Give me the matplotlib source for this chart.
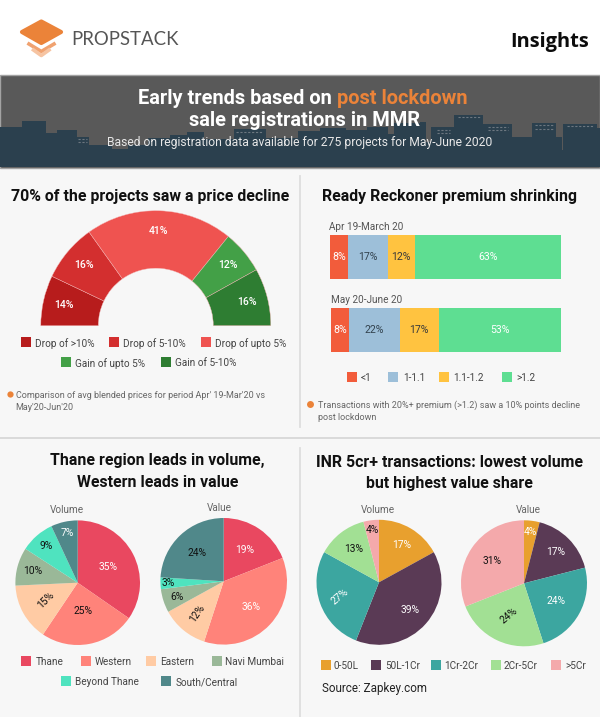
import numpy as np
import matplotlib
matplotlib.use("Agg")
import matplotlib.pyplot as plt
from matplotlib.patches import Polygon, Rectangle

plt.rcParams['font.family'] = ['Roboto', 'DejaVu Sans']

# gauge
gauge_labels = ['Drop of >10%', 'Drop of 5-10%', 'Drop of upto 5%', 'Gain of upto 5%', 'Gain of 5-10%']
gauge_values = [14, 16, 41, 12, 16]
gauge_colors = ['#b71c1c', '#d32f2f', '#ef5350', '#43a047', '#2e7d32']

# stacked bars
bar_periods = ['Apr 19-March 20', 'May 20-June 20']
bar_labels = ['<1', '1-1.1', '1.1-1.2', '>1.2']
bar_apr = [8, 17, 12, 63]
bar_may = [8, 22, 17, 53]
bar_colors = ['#f25c3b', '#9dbfd9', '#ffc340', '#5ede92']
bar_text = ['white', '#33434f', '#3a3a3a', 'white']

# regions
region_labels = ['Thane', 'Western', 'Eastern', 'Navi Mumbai', 'Beyond Thane', 'South/Central']
region_volume = [35, 25, 15, 10, 9, 7]
region_value = [19, 36, 12, 6, 3, 24]
region_colors = ['#e94860', '#ff837a', '#ffcba4', '#9ab898', '#4fe3bf', '#50888a']

# ticket size
size_labels = ['0-50L', '50L-1Cr', '1Cr-2Cr', '2Cr-5Cr', '>5Cr']
size_volume = [17, 39, 27, 13, 4]
size_value = [4, 17, 24, 24, 31]
size_colors = ['#e8a02e', '#5a3a55', '#3ca6a0', '#a2e094', '#f4a9ab']

W, H = 600, 717
BG = '#f7f7f7'
ORANGE = '#eb8339'
HEAD = 11.45
NOTE = 6.5

fig = plt.figure(figsize=(W / 100, H / 100), dpi=100, facecolor='white')

# full size axes in pixel coordinates for text and decoration
bg = fig.add_axes([0, 0, 1, 1])
bg.set_xlim(0, W)
bg.set_ylim(H, 0)
bg.axis('off')


def px_axes(x, y, w, h):
    ax = fig.add_axes([x / W, 1 - (y + h) / H, w / W, h / H])
    ax.patch.set_alpha(0)
    return ax


def label(x, y, s, size=7.2, color='#444444', ha='left', weight='normal', **kw):
    # centre of the box sits a bit above the ink, so nudge down
    bg.text(x, y + 1, s, fontsize=size, color=color, ha=ha, va='center', fontweight=weight, **kw)


def legend(items, colors, swatch_x, text_x, y):
    for s, c, sx, tx in zip(items, colors, swatch_x, text_x):
        bg.add_patch(Rectangle((sx, y - 5), 10, 10, fc=c, ec='none'))
        label(tx, y, s)


def draw_pie(cx, cy, r, values, colors, dist, text_colors, rotations):
    ax = px_axes(cx - r, cy - r, 2 * r, 2 * r)
    wedges, _ = ax.pie(values, colors=colors, startangle=90, counterclock=False, radius=1)
    ax.set_xlim(-1, 1)
    ax.set_ylim(-1, 1)
    for w, v, d, tc, rot in zip(wedges, values, dist, text_colors, rotations):
        a = np.radians((w.theta1 + w.theta2) / 2)
        ax.text(d * np.cos(a), d * np.sin(a), f'{v}%', color=tc, fontsize=7.4,
                ha='center', va='center', rotation=rot)


# page background and dividers
bg.add_patch(Rectangle((0, 168), W, H - 168, fc=BG, ec='none'))
bg.plot([300, 300], [176, 427], color='#dedede', lw=1.3)
bg.plot([300, 300], [448, 717], color='#dedede', lw=1.3)
bg.plot([0, 600], [438, 438], color='#d2d2d2', lw=1.1)

# logo
bg.plot([29, 41.3, 54], [44, 51.5, 44], color='#f0a270', lw=2.6, solid_joinstyle='round')
bg.plot([33.5, 41.3, 49], [50, 55.5, 50], color='#f6c4a2', lw=2.6, solid_joinstyle='round')
bg.add_patch(Polygon([(22, 32), (41.3, 21.5), (61, 32), (41.3, 43)], closed=True, fc=ORANGE,
                     ec=ORANGE, lw=3, joinstyle='round'))
label(71, 38.5, 'PROPSTACK', size=13.4, color='#555555', family=['Lato', 'DejaVu Sans'])
label(588.5, 41, 'Insights', size=14.4, color='#0c0c0c', ha='right', weight='bold',
      family=['Open Sans', 'DejaVu Sans'])

# header band with skyline
bg.add_patch(Rectangle((0, 75), W, 92.7, fc='#595959', ec='#a3a3a3', lw=1))
skyline = [(0, 127), (22, 127), (22, 121), (46, 121), (46, 133), (57, 133), (57, 130), (77, 130),
           (77, 137), (89, 137), (89, 145), (112, 145), (112, 149), (128, 149), (128, 145),
           (148, 145), (148, 138), (170, 138), (170, 135), (187, 135), (187, 132), (204, 132),
           (204, 139), (234, 139), (234, 129), (266, 129), (266, 138), (298, 138), (298, 131), (320, 131),
           (320, 128), (346, 128), (346, 130), (367, 130), (367, 127), (388, 127), (388, 134),
           (394, 134), (394, 123), (420, 123), (420, 122), (426, 122), (426, 142), (431, 142),
           (431, 127), (454, 127), (454, 115), (483, 115), (483, 124), (512, 124), (512, 137),
           (532, 137), (532, 123), (556, 123), (556, 137), (562, 137), (562, 150), (563, 150),
           (563, 124), (597, 124), (597, 128), (600, 128), (600, 167), (0, 167)]
bg.add_patch(Polygon(skyline, closed=True, fc='#2b404e', ec='none'))
for x0, x1, y in [(78, 87, 139), (78, 87, 142), (236, 262, 132), (437, 450, 130), (437, 450, 133),
                  (458, 480, 117), (488, 508, 127), (488, 508, 130), (535, 553, 125),
                  (535, 553, 129), (567, 593, 126)]:
    bg.plot([x0, x1], [y, y], color='#6d7780', lw=0.8, ls=(0, (2, 1.5)))

label(138, 97, 'Early trends based on', size=14.4, color='white', weight='bold')
label(337, 97, 'post lockdown', size=14.4, color=ORANGE, weight='bold')
label(305, 119, 'sale registrations in MMR', size=14.4, color='white', ha='center', weight='bold')
label(300, 141.7, 'Based on registration data available for 275 projects for May-June 2020',
      size=8.7, color='#e8e8e8', ha='center')

# gauge panel, hidden second half of the pie keeps the arc on top
label(150, 196, '70% of the projects saw a price decline', size=HEAD, color='#111111', ha='center', weight='bold')
gx, gy, gr = 155.8, 325.7, 115
gauge_ax = px_axes(gx - gr, gy - gr, 2 * gr, 2 * gr)
g_wedges, _ = gauge_ax.pie(gauge_values + [sum(gauge_values)], colors=gauge_colors + ['none'],
                           startangle=180, counterclock=False, radius=1,
                           wedgeprops=dict(width=0.5, edgecolor='#f3b5b5', linewidth=0.3))
g_wedges[-1].set_visible(False)
gauge_ax.set_xlim(-1, 1)
gauge_ax.set_ylim(-1, 1)
for w, v in zip(g_wedges, gauge_values):
    a = np.radians((w.theta1 + w.theta2) / 2)
    gauge_ax.text(0.82 * np.cos(a), 0.82 * np.sin(a), f'{v}%', color='white', fontsize=7.6,
                  fontweight='medium', ha='center', va='center')
legend(gauge_labels[:3], gauge_colors[:3], [21, 109, 201], [35.3, 123.3, 215.3], 342.3)
legend(gauge_labels[3:], gauge_colors[3:], [61, 161], [75, 175], 362.3)
bg.plot([10], [394], 'o', color=ORANGE, ms=4.5, mec='none')
label(15.7, 394, "Comparison of avg blended prices for period Apr' 19-Mar'20 vs", size=NOTE, color='#666666')
label(15.7, 406.7, "May'20-Jun'20", size=NOTE, color='#666666')

# stacked bars panel
label(450, 196, 'Ready Reckoner premium shrinking', size=HEAD, color='#111111', ha='center', weight='bold')
label(329.3, 226, bar_periods[0], color='#555555')
label(330.7, 299.3, bar_periods[1], color='#555555')
for vals, x0, y0, h in [(bar_apr, 329.7, 235, 44.3), (bar_may, 330.7, 307.7, 44.6)]:
    ax = px_axes(x0, y0, 561 - x0, h)
    ax.axis('off')
    ax.set_xlim(0, 100)
    ax.set_ylim(0, 1)
    left = 0
    for v, c, tc in zip(vals, bar_colors, bar_text):
        ax.barh(0.5, v, left=left, height=1, color=c)
        ax.text(left + v / 2, 0.5, f'{v}%', color=tc, fontsize=7.6, ha='center', va='center')
        left += v
legend(bar_labels, bar_colors, [347, 388, 439, 502.3], [361, 402.7, 453.3, 516], 376.7)
bg.plot([310], [404], 'o', color=ORANGE, ms=5, mec='none')
label(317.7, 404, 'Transactions with 20%+ premium (>1.2) saw a 10% points decline', size=NOTE, color='#666666')
label(317.7, 416.7, 'post lockdown', size=NOTE, color='#666666')

# region pies
label(157.7, 460, 'Thane region leads in volume,', size=HEAD, color='#111111', ha='center', weight='bold')
label(157.7, 481.3, 'Western leads in value', size=HEAD, color='#111111', ha='center', weight='bold')
label(67.3, 509.3, 'Volume', color='#666666', ha='center')
label(219.3, 507.3, 'Value', color='#666666', ha='center')
draw_pie(77.7, 582.7, 62.3, region_volume, region_colors, [.56, .46, .58, .74, .77, .81],
         ['white', '#111111', '#111111', '#111111', '#111111', 'white'], [0, 0, 45, 0, 0, 0])
draw_pie(223.7, 581.3, 63.3, region_value, region_colors, [.6, .6, .66, .78, .87, .61],
         ['white', 'white', '#111111', '#111111', '#111111', '#111111'], [0, 0, 55, 0, 0, 0])
legend(region_labels[:4], region_colors[:4], [21, 81, 146, 211.7], [35.7, 95, 160.3, 225.3], 661.3)
legend(region_labels[4:], region_colors[4:], [61, 161], [75.3, 175.3], 681.3)

# ticket size pies
label(449.3, 461.3, 'INR 5cr+ transactions: lowest volume', size=HEAD, color='#111111', ha='center', weight='bold')
label(449.3, 482.3, 'but highest value share', size=HEAD, color='#111111', ha='center', weight='bold')
label(378.3, 509.3, 'Volume', color='#666666', ha='center')
label(528.3, 509.3, 'Value', color='#666666', ha='center')
draw_pie(379, 582.3, 62.5, size_volume, size_colors, [.7, .66, .66, .67, .85],
         ['white', 'white', 'white', '#111111', '#111111'], [0, 0, 40, 0, 0])
draw_pie(524, 583.3, 63, size_value, size_colors, [.82, .7, .58, .57, .62],
         ['white', 'white', 'white', '#111111', '#111111'], [0, 0, 0, 40, 0])
legend(size_labels, size_colors, [321, 371.3, 431.3, 491, 550.7], [334, 385.3, 443.7, 504, 565], 664.7)
label(321.7, 687.3, 'Source: Zapkey.com', size=8.4, color='#222222')

fig.savefig('out.png', dpi=100)
